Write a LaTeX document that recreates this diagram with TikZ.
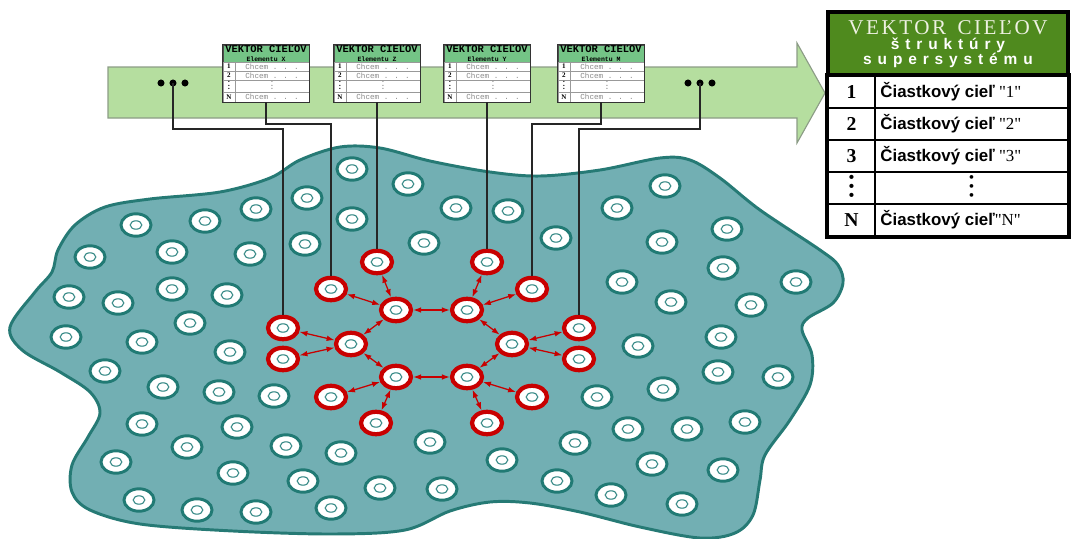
\documentclass[tikz,border=0pt]{standalone}
\usepackage{fontspec}
\setmainfont{Liberation Serif}
\newfontfamily\headsans{Liberation Sans}[LetterSpace=38]
\newfontfamily\headserif{Liberation Serif}[LetterSpace=12]
\newfontfamily\cielsans{Liberation Sans}
\newfontfamily\monofont{Liberation Mono}
\usepackage{tikz}
\usetikzlibrary{arrows.meta,calc,shapes.geometric}
\definecolor{blobfill}{HTML}{72AFB3}
\definecolor{blobline}{HTML}{267A75}
\definecolor{cellteal}{HTML}{217A74}
\definecolor{ringteal}{HTML}{3B8C89}
\definecolor{netred}{HTML}{C80000}
\definecolor{bandfill}{HTML}{B5DE9F}
\definecolor{bandline}{HTML}{8C9C86}
\definecolor{gtgreen}{HTML}{74C486}
\definecolor{hdrgreen}{HTML}{4F8A1E}
\definecolor{hdrtext}{HTML}{EEF1E2}
\definecolor{chcemgray}{HTML}{8A8A8A}
\tikzset{
  band/.style    = {fill=bandfill, draw=bandline, line width=0.8pt},
  blob/.style    = {fill=blobfill, draw=blobline, line width=2.1pt},
  cell/.style    = {ellipse, draw=cellteal, fill=white, line width=2.1pt,
                    minimum width=0.75cm, minimum height=0.56cm, inner sep=0pt,
                    path picture={\draw[ringteal, line width=0.8pt]
                      (path picture bounding box.center) ellipse (0.145cm and 0.105cm);}},
  redcell/.style = {cell, draw=netred, line width=3pt},
  link/.style    = {{Latex[length=2mm,width=1.4mm]}-{Latex[length=2mm,width=1.4mm]},
                    draw=netred, line width=0.9pt},
  wire/.style    = {draw=black!85, line width=1.1pt},
  gthead/.style  = {draw=black!70, fill=gtgreen, minimum width=2.15cm, minimum height=0.425cm,
                    inner sep=0pt, align=center, font=\monofont\bfseries\fontsize{7.4}{6}\selectfont},
  gtnum/.style   = {draw=black!40, fill=white, minimum width=0.3cm,
                    inner sep=0pt, font=\bfseries\fontsize{5}{5}\selectfont},
  gttxt/.style   = {draw=black!40, fill=white, minimum width=1.85cm,
                    inner sep=0pt, text=chcemgray, font=\monofont\fontsize{5.4}{5}\selectfont},
  gtframe/.style = {draw=black!80, line width=0.9pt},
  bighead/.style = {draw=black, line width=2.8pt, fill=hdrgreen, minimum width=6cm,
                    minimum height=1.6cm, inner sep=0pt, align=center, text=white,
                    font=\headsans\bfseries\fontsize{11}{10.8}\selectfont},
  bignum/.style  = {draw=black, line width=1pt, fill=white, minimum width=1.175cm,
                    minimum height=0.8cm, inner sep=0pt, font=\bfseries\fontsize{14}{14}\selectfont},
  bigtxt/.style  = {draw=black, line width=1pt, fill=white, minimum width=4.825cm,
                    minimum height=0.8cm, inner sep=0pt, font=\fontsize{12}{14}\selectfont},
}
\newcommand{\tinydots}{\vbox{\fontsize{3.4}{0}\selectfont\baselineskip=2.6pt
  \lineskiplimit=-\maxdimen\hbox{•}\hbox{•}\hbox{•}}}
\newcommand{\bigdots}{\vbox{\fontsize{11}{0}\selectfont\baselineskip=6.3pt
  \lineskiplimit=-\maxdimen\hbox{•}\hbox{•}\hbox{•}}}
\newcommand{\chcem}{Chcem . . .}
\newcommand{\ciel}{{\cielsans\bfseries Čiastkový cieľ}}
\newcommand{\qt}[1]{\textquotedbl#1\textquotedbl}
\newcommand{\lrow}[1]{\makebox[4.55cm][l]{#1}}
% goal table of one element: name, centre x, letter
\newcommand{\goaltab}[3]{%
  \node[gthead] (#1) at (#2,53.5) {VEKTOR CIEĽOV\\{\fontsize{4.6}{5}\selectfont Elementu #3}};
  \foreach \k/\yc/\h/\num/\txt in {1/66.5/0.225cm/1/\chcem, 2/75.5/0.225cm/2/\chcem,
    3/86/0.3cm/\tinydots/\tinydots, 4/97/0.25cm/N/\chcem}{
    \node[gtnum, minimum height=\h] (#1-n\k) at (#2-37,\yc) {\num};
    \node[gttxt, minimum height=\h] (#1-t\k) at (#2+6,\yc) {\txt};}
  \draw[gtframe] (#1.north west) rectangle (#1-t4.south east);
  \coordinate (#1-out) at (#2,102);}

\begin{document}
\begin{tikzpicture}[x=0.025cm,y=-0.025cm]
\useasboundingbox (0,0) rectangle (1072,539);
% ---- band arrow ----
\draw[band] (108,67) -- (797,67) -- (797,43) -- (825,93) -- (797,143) -- (797,118) -- (108,118) -- cycle;
\coordinate (dL) at (173,83);
\coordinate (dR) at (700,83);
\foreach \d in {-12,0,12}{
  \fill ($(dL)+(\d,0)$) circle (2.5pt);
  \fill ($(dR)+(\d,0)$) circle (2.5pt);}
% ---- system ----
\draw[blob] plot[smooth cycle, tension=0.55] coordinates {
  (10,327) (22,350) (60,372) (90,392) (100,413) (88,437) (72,465) (72,492) (90,510)
  (140,524) (233,531) (333,534) (405,530) (450,511) (490,502) (530,503) (580,512)
  (640,527) (700,538) (735,533) (753,515) (760,480) (765,455) (790,420) (810,385)
  (812,355) (802,330) (808,318) (833,303) (843,283) (838,265) (820,250) (760,210)
  (720,178) (690,160) (660,158) (600,170) (540,176) (490,172) (430,161) (380,148)
  (340,147) (300,160) (270,178) (220,192) (150,199) (105,207) (75,225) (58,250)
  (52,272) (35,292)};
% ordinary elements
\foreach \px/\py [count=\i] in {352/169, 307/198, 256/209, 205/221, 136/225, 352/219,
  305/244, 250/254, 172/252, 90/257, 172/289, 227/295, 69/297, 118/303, 190/323, 66/337,
  142/342, 230/352, 105/371, 163/387, 219/392, 274/396, 142/424, 237/427, 187/447,
  286/446, 341/453, 116/462, 233/473, 303/481, 380/488, 139/500, 197/510, 256/512,
  331/508, 430/442, 408/184, 456/208, 508/211, 424/243, 556/238, 665/186, 617/208,
  662/242, 727/229, 723/268, 622/282, 796/282, 671/302, 751/305, 721/337, 638/346,
  718/372, 778/377, 663/389, 597/397, 745/422, 687/429, 628/429, 575/443, 502/460,
  723/470, 652/464, 557/481, 442/489, 611/495, 682/504}
  \node[cell] (c\i) at (\px,\py) {};
% linked elements
\foreach \nm/\px/\py in {h1/396/310, h2/351/344, h3/396/377, h4/467/377, h5/512/344,
  h6/467/310, s1/377/262, s2/331/289, s3/283/328, s4/283/359, s5/331/397, s6/376/423,
  s7/487/262, s8/532/289, s9/579/328, s10/579/359, s11/532/397, s12/487/423}
  \node[redcell] (\nm) at (\px,\py) {};
\foreach \a/\b in {h1/h2, h2/h3, h3/h4, h4/h5, h5/h6, h6/h1}
  \draw[link] (\a) -- (\b);
\foreach \a/\b in {s1/h1, s2/h1, s3/h2, s4/h2, s5/h3, s6/h3, s7/h6, s8/h6, s9/h5,
  s10/h5, s11/h4, s12/h4}
  \draw[link] (\a) -- (\b);
% ---- goal tables of elements ----
\goaltab{tX}{266}{X}
\goaltab{tZ}{377}{Z}
\goaltab{tY}{487}{Y}
\goaltab{tM}{601}{M}
\draw[wire] (dL) -- ++(0,46) -| (s3);
\draw[wire] (tX-out) -- ++(0,22) -| (s2);
\draw[wire] (tZ-out) -- (s1);
\draw[wire] (tY-out) -- (s7);
\draw[wire] (tM-out) -- ++(0,22) -| (s8);
\draw[wire] (dR) -- ++(0,46) -| (s9);
% ---- goal vector of the supersystem ----
\node[bighead] (hdr) at (948,44) {\lineskiplimit=-20pt\relax
  {\headserif\mdseries\fontsize{15}{10.8}\selectfont\color{hdrtext}VEKTOR\hspace{8pt}CIEĽOV}\\
  štruktúry\\supersystému};
\foreach \k/\num/\txt [evaluate=\k as \yy using 60+32*\k] in {1/1/\lrow{\ciel\ \qt{1}},
  2/2/\lrow{\ciel\ \qt{2}}, 3/3/\lrow{\ciel\ \qt{3}}, 4/\bigdots/\bigdots, 5/N/\lrow{\ciel\qt{N}}}{
  \node[bignum] (n\k) at (851.5,\yy) {\num};
  \node[bigtxt] (t\k) at (971.5,\yy) {\txt};}
\draw[line width=2.8pt] (n1.north west) rectangle (t5.south east);
\end{tikzpicture}
\end{document}
